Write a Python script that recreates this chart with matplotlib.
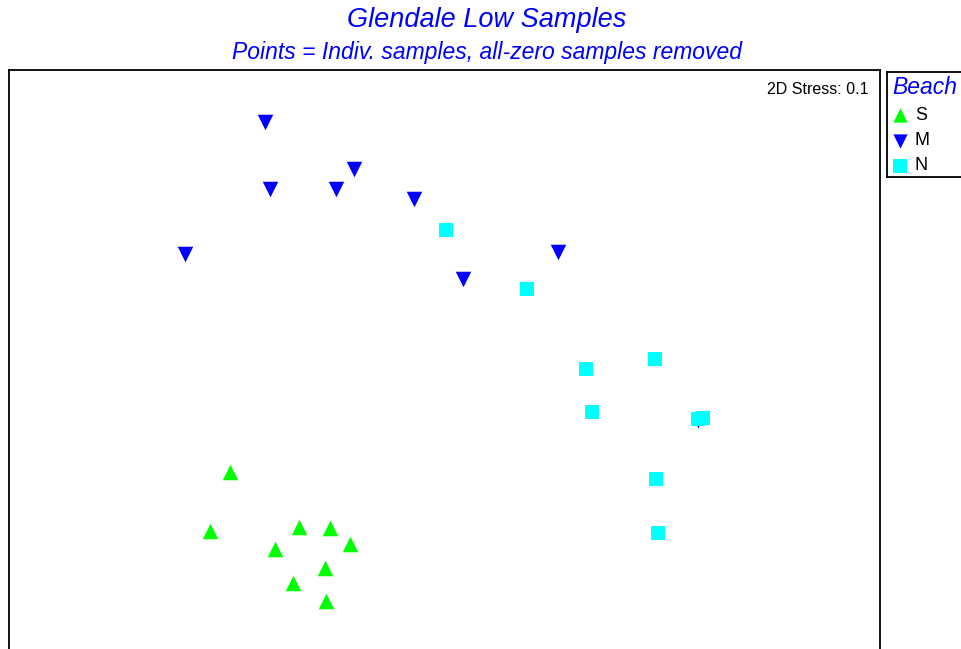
import matplotlib
matplotlib.use('Agg')
import matplotlib.pyplot as plt

plt.rcParams['font.family'] = ['Liberation Sans', 'DejaVu Sans']

# MDS ordination coordinates (arbitrary units, y downwards)
s_x = [230, 210, 299, 330, 275, 350, 325, 293, 326]
s_y = [472, 531, 527, 528, 549, 544, 568, 583, 601]
m_x = [265, 354, 270, 336, 414, 185, 558, 463, 698]
m_y = [122, 169, 189, 189, 199, 254, 252, 279, 420]
n_x = [446, 527, 655, 586, 592, 698, 703, 656, 658]
n_y = [230, 289, 359, 369, 412, 419, 418, 479, 533]

groups = ['S', 'M', 'N']
markers = ['^', 'v', 's']
colors = ['#00ff00', '#0000ff', '#00ffff']

W, H = 962, 649
fig = plt.figure(figsize=(W / 100, H / 100), dpi=100)

# main plot box (bottom is cut off by the figure edge)
ax = fig.add_axes([9 / W, 1 - 700 / H, (880 - 9) / W, (700 - 70) / H])
ax.scatter(m_x, m_y, marker='v', s=125, color=colors[1], linewidths=0, zorder=2)
ax.scatter(n_x, n_y, marker='s', s=100, color=colors[2], linewidths=0, zorder=3)
ax.scatter(s_x, s_y, marker='^', s=125, color=colors[0], linewidths=0, zorder=2)
ax.set_xlim(9, 880)
ax.set_ylim(700, 70)
ax.set_xticks([])
ax.set_yticks([])
for sp in ax.spines.values():
    sp.set_linewidth(1.3)
ax.text(869, 89, '2D Stress: 0.1', ha='right', va='center', fontsize=11.5)

fig.text(487 / W, 1 - 20 / H, 'Glendale Low Samples', ha='center', va='center',
         fontsize=19.5, style='italic', color='#0000ff')
fig.text(487 / W, 1 - 52 / H, 'Points = Indiv. samples, all-zero samples removed',
         ha='center', va='center', fontsize=16.5, style='italic', color='#0000ff')

# legend box
lg = fig.add_axes([887 / W, 1 - 177 / H, 90 / W, 105 / H])
lg.set_xlim(887, 977)
lg.set_ylim(177, 72)
lg.set_xticks([])
lg.set_yticks([])
for sp in lg.spines.values():
    sp.set_linewidth(1.3)
lg.text(892, 88, 'Beach', ha='left', va='center', fontsize=16.5, style='italic', color='#0000ff')
for i, g in enumerate(groups):
    yy = 115 + i * 25.5
    lg.scatter([900], [yy], marker=markers[i], s=105, color=colors[i], linewidths=0)
    lg.text(915, yy, g, ha='left', va='center', fontsize=13)

fig.savefig('out.png', dpi=100)
